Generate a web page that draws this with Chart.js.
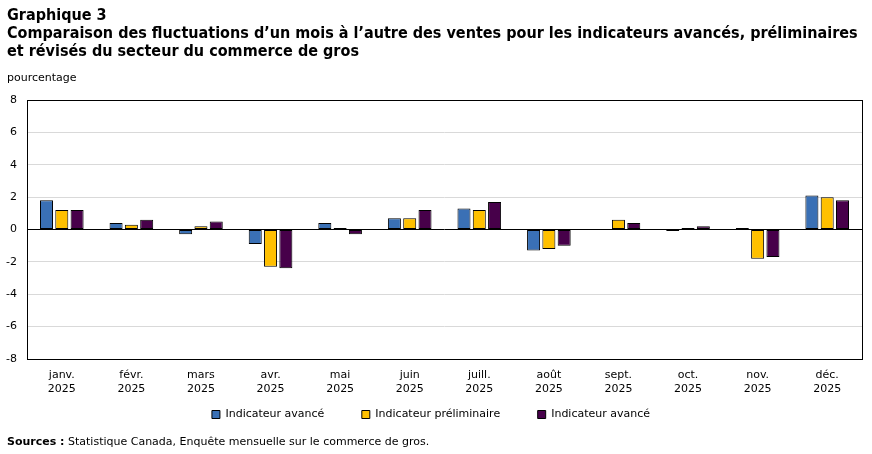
<!DOCTYPE html>
<html lang="fr">
<head>
<meta charset="utf-8">
<script src="https://cdn.jsdelivr.net/npm/chart.js@4/dist/chart.umd.min.js"></script>
<style>
  body { margin: 0; background: #fff; }
  #wrap { position: relative; width: 872px; height: 454px; }
  #chart { position: absolute; left: 0; top: 0; }
  .txt { position: absolute; left: 7px; font-family: Tahoma, "DejaVu Sans", sans-serif; color: #000; white-space: nowrap; }
  #title { top: 6px; font-weight: bold; font-size: 15px; line-height: 18px; transform-origin: 0 0; }
  #unit { top: 71px; font-size: 11px; }
  #source { top: 435px; font-size: 11px; }
</style>
</head>
<body>
<div id="wrap">
  <canvas id="chart" width="872" height="454"></canvas>
  <div class="txt" id="title"><span>Graphique 3</span><br><span id="tline">Comparaison des fluctuations d’un mois à l’autre des ventes pour les indicateurs avancés, préliminaires</span><br><span>et révisés du secteur du commerce de gros</span></div>
  <div class="txt" id="unit">pourcentage</div>
  <div class="txt" id="source"><b>Sources :</b> Statistique Canada, Enquête mensuelle sur le commerce de gros.</div>
</div>
<script>
const months = ['janv.', 'févr.', 'mars', 'avr.', 'mai', 'juin', 'juill.', 'août', 'sept.', 'oct.', 'nov.', 'déc.'];
const year = '2025';
const seriesNames = ['Indicateur avancé', 'Indicateur préliminaire', 'Indicateur avancé'];
const advance = [1.8, 0.4, -0.3, -0.9, 0.4, 0.7, 1.3, -1.3, 0, -0.1, 0.1, 2.1];
const preliminary = [1.2, 0.3, 0.2, -2.3, 0.1, 0.7, 1.2, -1.2, 0.6, 0.1, -1.8, 2.0];
const revised = [1.2, 0.6, 0.5, -2.4, -0.3, 1.2, 1.7, -1.0, 0.4, 0.2, -1.7, 1.8];
const yTicks = [-8, -6, -4, -2, 0, 2, 4, 6, 8];

const colors = ['#3a70b5', '#ffc000', '#47004a'];
const baseFont = { family: 'Tahoma, "DejaVu Sans", sans-serif', size: 11 };

// squeeze the bold title so the long line fits like the original
const tline = document.getElementById('tline');
const sq = Math.min(1, 851 / tline.offsetWidth);
document.getElementById('title').style.transform = 'scaleX(' + sq + ')';

// black frame around the plot area
const frame = {
  id: 'frame',
  afterDatasetsDraw(chart) {
    const a = chart.chartArea, c = chart.ctx;
    c.save();
    c.strokeStyle = '#000';
    c.lineWidth = 1;
    c.strokeRect(Math.round(a.left) + 0.5, Math.round(a.top) + 0.5, Math.round(a.right - a.left), Math.round(a.bottom - a.top));
    c.restore();
  }
};

const sets = [advance, preliminary, revised].map((d, i) => ({
  label: seriesNames[i],
  data: d,
  backgroundColor: colors[i],
  borderColor: '#000',
  borderWidth: 1,
  borderSkipped: false,
  categoryPercentage: 0.66,
  barPercentage: 0.85
}));

new Chart(document.getElementById('chart').getContext('2d'), {
  type: 'bar',
  data: {
    labels: months.map(m => [m, year]),
    datasets: sets
  },
  options: {
    responsive: false,
    animation: false,
    layout: { padding: { top: 100, right: 10, left: 0, bottom: 24 } },
    plugins: {
      legend: {
        position: 'bottom',
        labels: {
          font: baseFont,
          color: '#000',
          boxWidth: 8,
          boxHeight: 8,
          padding: 10,
          // extra room between the legend items
          generateLabels: chart => Chart.defaults.plugins.legend.labels.generateLabels(chart)
            .map((l, i) => Object.assign(l, { text: i < 2 ? l.text + '\u2003\u2003\u2002' : l.text }))
        }
      },
      tooltip: { enabled: false }
    },
    scales: {
      x: {
        grid: { display: false },
        border: { display: false },
        ticks: { font: baseFont, color: '#000', padding: 2, maxRotation: 0 },
        afterFit: s => { s.height = 40; }
      },
      y: {
        min: -8,
        max: 8,
        afterBuildTicks: s => { s.ticks = yTicks.map(v => ({ value: v })); },
        afterFit: s => { s.width = 27; },
        grid: {
          drawTicks: false,
          color: ctx => (ctx.tick && ctx.tick.value === 0) ? '#000' : '#d9d9d9'
        },
        border: { display: false },
        ticks: { font: baseFont, color: '#000', padding: 10 }
      }
    }
  },
  plugins: [frame]
});
</script>
</body>
</html>
